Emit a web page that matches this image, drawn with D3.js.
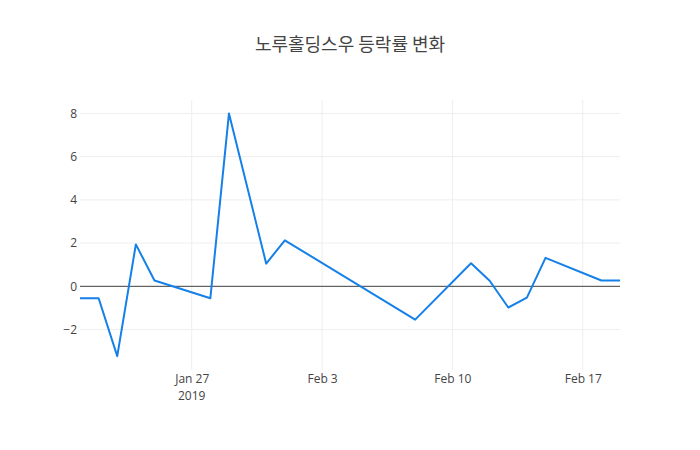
<!DOCTYPE html>
<html>
<head>
<meta charset="utf-8">
<script src="https://cdn.jsdelivr.net/npm/d3@7"></script>
<style>
  body { margin: 0; background: #fff; }
  svg text { font-family: "Open Sans", "Noto Sans CJK KR", sans-serif; }
</style>
</head>
<body>
<script>
// daily change rate (%)
var dates = ["2019-01-21", "2019-01-22", "2019-01-23", "2019-01-24", "2019-01-25",
             "2019-01-28", "2019-01-29", "2019-01-31", "2019-02-01", "2019-02-08",
             "2019-02-11", "2019-02-12", "2019-02-13", "2019-02-14", "2019-02-15",
             "2019-02-18", "2019-02-19"];
var changes = [-0.55, -0.55, -3.23, 1.94, 0.27,
               -0.55, 8.0, 1.05, 2.13, -1.54,
               1.07, 0.26, -0.98, -0.52, 1.32,
               0.27, 0.27];
var yTicks = [-2, 0, 2, 4, 6, 8];
var xTicks = ["2019-01-27", "2019-02-03", "2019-02-10", "2019-02-17"];
var title = "노루홀딩스우 등락률 변화";

var parseTime = d3.timeParse("%Y-%m-%d");
var data = dates.map(function (d, i) { return {date: parseTime(d), value: changes[i]}; });

var W = 700, H = 450;
var margin = {top: 100, right: 80, bottom: 80, left: 80},
    width = W - margin.left - margin.right,
    height = H - margin.top - margin.bottom;

var svg = d3.select("body").append("svg")
    .attr("width", W)
    .attr("height", H);

var g = svg.append("g")
    .attr("transform", "translate(" + margin.left + "," + margin.top + ")");

var x = d3.scaleTime()
    .domain(d3.extent(data, function (d) { return d.date; }))
    .range([0, width]);

var y = d3.scaleLinear()
    .domain([-3.87, 8.62])
    .range([height, 0]);

// grid lines
g.selectAll(".ygrid").data(yTicks).enter().append("line")
    .attr("x1", 0).attr("x2", width)
    .attr("y1", function (d) { return y(d); })
    .attr("y2", function (d) { return y(d); })
    .attr("stroke", "#eee").attr("stroke-width", 1);

g.selectAll(".xgrid").data(xTicks.map(parseTime)).enter().append("line")
    .attr("y1", 0).attr("y2", height)
    .attr("x1", function (d) { return x(d); })
    .attr("x2", function (d) { return x(d); })
    .attr("stroke", "#eee").attr("stroke-width", 1);

// zero line
g.append("line")
    .attr("x1", 0).attr("x2", width)
    .attr("y1", y(0)).attr("y2", y(0))
    .attr("stroke", "#444").attr("stroke-width", 1);

// y axis labels
var yAxis = g.append("g")
    .call(d3.axisLeft(y).tickValues(yTicks).tickSize(0).tickPadding(3)
        .tickFormat(function (d) { return d < 0 ? "\u2212" + Math.abs(d) : d; }));
yAxis.select(".domain").remove();
yAxis.selectAll("text").attr("font-size", 12).attr("fill", "#444")
    .style("font-family", "'Open Sans', sans-serif");

// x axis labels
var xAxis = g.append("g")
    .attr("transform", "translate(0," + height + ")")
    .call(d3.axisBottom(x).tickValues(xTicks.map(parseTime)).tickSize(0).tickPadding(4)
        .tickFormat(d3.timeFormat("%b %-d")));
xAxis.select(".domain").remove();
xAxis.selectAll("text").attr("font-size", 12).attr("fill", "#444")
    .style("font-family", "'Open Sans', sans-serif");
xAxis.append("text")
    .attr("x", x(parseTime(xTicks[0])))
    .attr("y", 21)
    .attr("dy", "0.71em")
    .attr("text-anchor", "middle")
    .attr("font-size", 12).attr("fill", "#444")
    .style("font-family", "'Open Sans', sans-serif")
    .text("2019");

// the line
var line = d3.line()
    .x(function (d) { return x(d.date); })
    .y(function (d) { return y(d.value); });

g.append("path")
    .datum(data)
    .attr("fill", "none")
    .attr("stroke", "#1580e8")
    .attr("stroke-width", 2)
    .attr("stroke-linejoin", "round")
    .attr("d", line);

// title
svg.append("text")
    .attr("x", W / 2)
    .attr("y", 51)
    .attr("text-anchor", "middle")
    .attr("font-size", 18)
    .attr("fill", "#444")
    .style("font-family", "'Noto Sans CJK KR', 'Open Sans', sans-serif")
    .text(title);
</script>
</body>
</html>
